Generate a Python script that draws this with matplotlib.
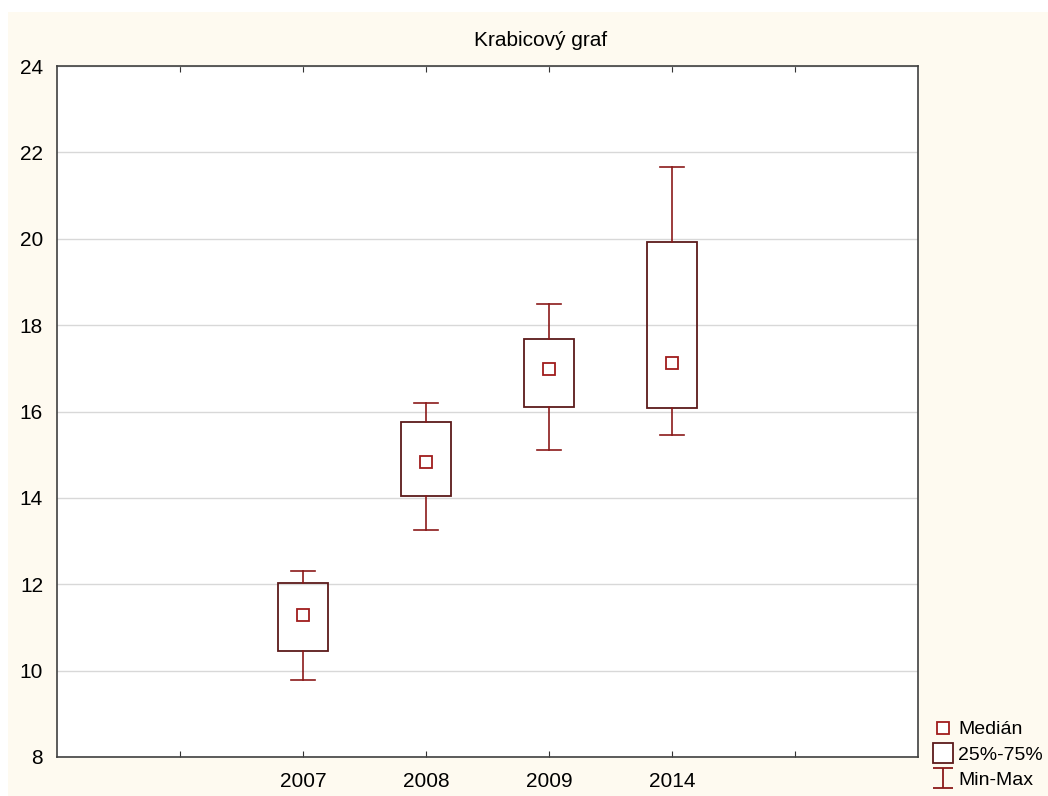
import numpy as np
import matplotlib.pyplot as plt
from matplotlib.lines import Line2D
from matplotlib.patches import Rectangle
from matplotlib.path import Path

plt.rcParams['font.family'] = ['Liberation Sans', 'DejaVu Sans']

years = ['2007', '2008', '2009', '2014']
medians = [11.29, 14.83, 16.98, 17.12]
q1 = [10.45, 14.04, 16.10, 16.08]
q3 = [12.03, 15.76, 17.68, 19.92]
mins = [9.78, 13.26, 15.11, 15.46]
maxs = [12.31, 16.20, 18.49, 21.66]

box_col = '#5c1a1a'
whisk_col = '#8b1a1a'
med_col = '#a01c1c'

fig = plt.figure(figsize=(10.48, 7.96), dpi=100, facecolor='white')
fig.patches.append(Rectangle((8 / 1048, 0), 1, 1 - 12 / 796, transform=fig.transFigure,
                             facecolor='#fefaf0', edgecolor='none', zorder=-5))
ax = fig.add_axes([57 / 1048, 1 - 757 / 796, 861 / 1048, 691 / 796])
ax.set_facecolor('white')

pos = np.arange(2, 2 + len(years))
bw = 0.41
cw = 0.2
for x, lo, a, m, b, hi in zip(pos, mins, q1, medians, q3, maxs):
    ax.add_patch(Rectangle((x - bw / 2, a), bw, b - a, facecolor='none',
                           edgecolor=box_col, lw=1.3, zorder=3))
    ax.plot([x, x], [b, hi], color=whisk_col, lw=1.2, zorder=3)
    ax.plot([x, x], [lo, a], color=whisk_col, lw=1.2, zorder=3)
    ax.plot([x - cw / 2, x + cw / 2], [hi, hi], color=whisk_col, lw=1.2, zorder=3)
    ax.plot([x - cw / 2, x + cw / 2], [lo, lo], color=whisk_col, lw=1.2, zorder=3)
    ax.plot(x, m, marker='s', ms=8, mfc='white', mec=med_col, mew=1.3, zorder=4)

ax.set_xlim(0, 7)
ax.set_ylim(8, 24)
ax.set_yticks(np.arange(8, 25, 2))
ax.set_xticks(np.arange(1, 7))
ax.set_xticklabels([''] + years + [''])
ax.tick_params(axis='x', direction='in', length=4, top=True, labelsize=15, pad=11, color='#333333')
ax.tick_params(axis='y', length=0, labelsize=15, pad=10)
ax.yaxis.grid(True, color='#d8d8d8', lw=1)
ax.set_axisbelow(True)
for s in ax.spines.values():
    s.set_color('#404040')
    s.set_linewidth(1.2)
fig.text(541 / 1048, 1 - 40 / 796, 'Krabicový graf', fontsize=15, ha='center', va='center')

ibeam = Path([(-1, 1), (1, 1), (0, 1), (0, -1), (-1, -1), (1, -1)],
             [Path.MOVETO, Path.LINETO, Path.MOVETO, Path.LINETO, Path.MOVETO, Path.LINETO])
handles = [
    Line2D([], [], ls='none', marker='s', ms=8, mfc='white', mec=med_col, mew=1.3),
    Line2D([], [], ls='none', marker='s', ms=15, mfc='white', mec=box_col, mew=1.3),
    Line2D([], [], ls='none', marker=ibeam, ms=15, mec=whisk_col, mew=1.3),
]
fig.legend(handles, ['Medián', '25%-75%', 'Min-Max'], loc='lower left',
           bbox_to_anchor=(922 / 1048, -0.006), frameon=False, fontsize=14,
           handlelength=1.0, handletextpad=0.25, labelspacing=0.4, borderaxespad=0.2)

fig.savefig('out.png', dpi=100, facecolor=fig.get_facecolor())
